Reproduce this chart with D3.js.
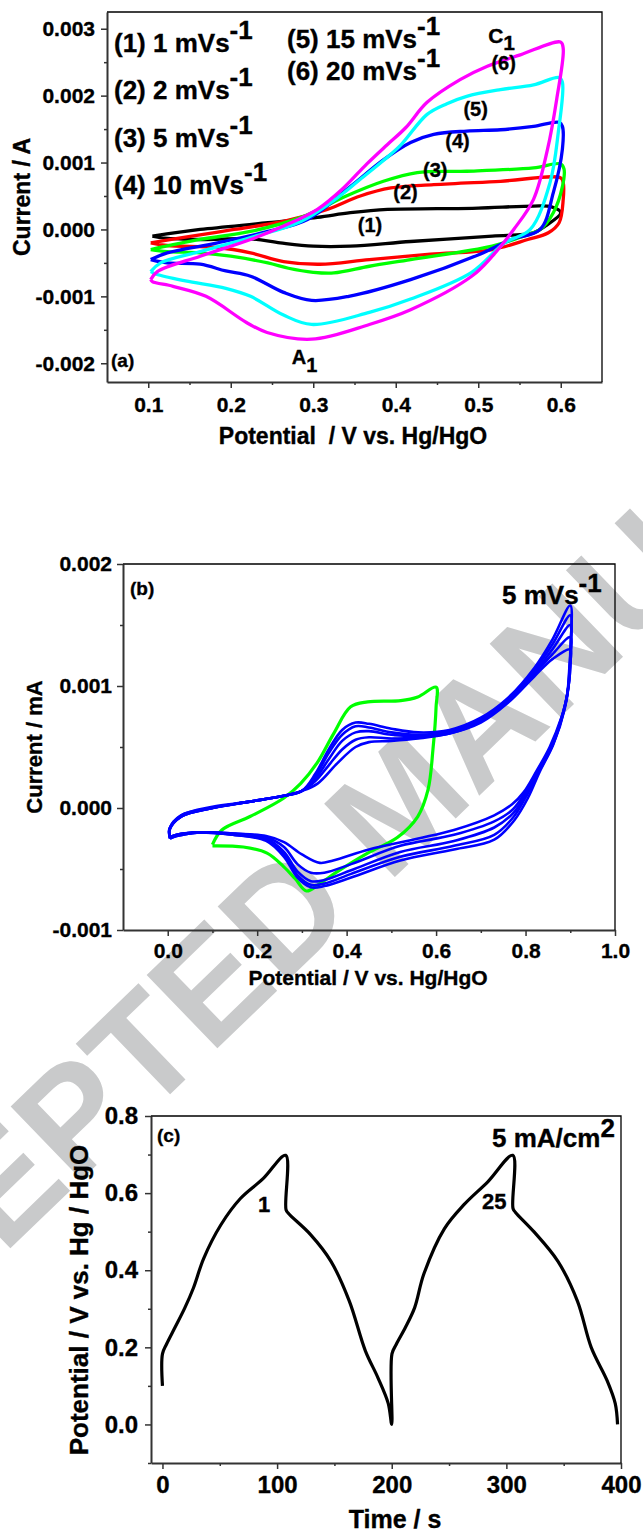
<!DOCTYPE html>
<html>
<head>
<meta charset="utf-8">
<script src="https://cdn.jsdelivr.net/npm/d3@7"></script>
<style>
  html, body { margin: 0; padding: 0; background: #fff; }
  svg text { font-family: "Liberation Sans", Arial, Helvetica, sans-serif; font-weight: bold; fill: #000; }
  svg text.ink { stroke: #000; stroke-width: 0.35px; }
</style>
</head>
<body>
<svg id="fig" width="643" height="1534"></svg>
<script>
// ---- (a) CV at several scan rates: [potential V, current A], anodic sweep then cathodic ----
const scanRatesA = ['(1) 1 mVs', '(2) 2 mVs', '(3) 5 mVs', '(4) 10 mVs', '(5) 15 mVs', '(6) 20 mVs'];
const curveLabelsA = ['(1)', '(2)', '(3)', '(4)', '(5)', '(6)'];
const coloursA = ['#000000', '#ff0000', '#00ff00', '#0000ff', '#00ffff', '#ff00ff'];

const cv1 = [[0.105,-0.0001],[0.163,0.0],[0.245,0.0001],[0.305,0.00018],[0.345,0.00025],[0.39,0.0003],[0.45,0.00031],[0.5,0.00032],[0.567,0.00035],[0.588,0.00034],[0.6,0.00025],
  [0.581,0.00005],[0.567,-0.00005],[0.517,-0.0001],[0.418,-0.00018],[0.345,-0.00025],[0.3,-0.00025],[0.26,-0.0002],[0.224,-0.00014],[0.163,-0.00015],[0.12,-0.00013],[0.105,-0.0001]];
const cv2 = [[0.103,-0.0002],[0.143,-0.00012],[0.204,0.0],[0.264,0.00012],[0.317,0.0003],[0.357,0.0005],[0.394,0.00062],[0.446,0.00067],[0.527,0.00072],[0.6,0.00077],
  [0.603,0.0007],[0.603,0.00045],[0.598,0.0001],[0.585,-0.00005],[0.56,-0.00015],[0.517,-0.0003],[0.442,-0.00037],[0.368,-0.00045],[0.308,-0.00052],[0.264,-0.00048],[0.224,-0.00035],[0.184,-0.00027],[0.123,-0.00024],[0.103,-0.0002]];
const cv3 = [[0.103,-0.0003],[0.163,-0.00015],[0.224,-0.00003],[0.285,0.00018],[0.34,0.0005],[0.385,0.00072],[0.426,0.00085],[0.486,0.00087],[0.567,0.00092],[0.6,0.00098],
  [0.604,0.0009],[0.602,0.00064],[0.591,0.00025],[0.575,0.0],[0.55,-0.00012],[0.517,-0.00025],[0.418,-0.00045],[0.368,-0.00055],[0.325,-0.00065],[0.3,-0.00064],[0.27,-0.00058],[0.245,-0.0005],[0.2,-0.0004],[0.163,-0.00035],[0.123,-0.00033],[0.103,-0.0003]];
const cv4 = [[0.103,-0.00045],[0.123,-0.00035],[0.184,-0.0002],[0.245,-0.00003],[0.293,0.00015],[0.345,0.00064],[0.385,0.00104],[0.418,0.0013],[0.446,0.00142],[0.486,0.00147],[0.527,0.00149],[0.567,0.00154],[0.598,0.0016],
  [0.602,0.00154],[0.602,0.0012],[0.591,0.00055],[0.575,0.0],[0.54,-0.00015],[0.502,-0.00037],[0.418,-0.00075],[0.343,-0.001],[0.298,-0.00106],[0.264,-0.00094],[0.224,-0.0007],[0.194,-0.00062],[0.163,-0.00052],[0.123,-0.0005],[0.103,-0.00045]];
const cv5 = [[0.103,-0.00063],[0.115,-0.0005],[0.163,-0.00033],[0.224,-0.00012],[0.285,0.00012],[0.33,0.00048],[0.357,0.00075],[0.385,0.00103],[0.406,0.00126],[0.438,0.00172],[0.462,0.00188],[0.486,0.00199],[0.527,0.00209],[0.567,0.00216],[0.598,0.00227],
  [0.602,0.0022],[0.597,0.00145],[0.587,0.0007],[0.563,0.0],[0.532,-0.0002],[0.492,-0.00064],[0.418,-0.00104],[0.368,-0.00124],[0.298,-0.00142],[0.264,-0.00128],[0.224,-0.001],[0.194,-0.00088],[0.145,-0.00077],[0.11,-0.00067],[0.103,-0.00063]];
const cv6 = [[0.103,-0.00075],[0.111,-0.00063],[0.163,-0.0004],[0.224,-0.00015],[0.264,0.00005],[0.305,0.0003],[0.335,0.0006],[0.365,0.00098],[0.39,0.00127],[0.412,0.00152],[0.438,0.0019],[0.478,0.00224],[0.511,0.00244],[0.551,0.00261],[0.6,0.0028],
  [0.603,0.0027],[0.595,0.00194],[0.584,0.0012],[0.567,0.00045],[0.543,0.0],[0.517,-0.0004],[0.492,-0.0007],[0.418,-0.0012],[0.368,-0.00142],[0.298,-0.00164],[0.244,-0.00154],[0.219,-0.00139],[0.17,-0.001],[0.13,-0.00085],[0.105,-0.00078],[0.103,-0.00075]];
const cvA = [cv1, cv2, cv3, cv4, cv5, cv6];

// ---- (b) repeated cycles at 5 mV/s: green to 0.6 V, blue to 0.9 V ----
const cycleGreen = [[0.1,-0.0003],[0.121,-0.00018],[0.184,-0.00007],[0.259,0.00008],[0.297,0.0002],[0.334,0.00037],[0.371,0.00061],[0.409,0.00083],[0.447,0.00087],[0.521,0.00088],[0.559,0.00091],[0.6,0.00099],
  [0.6,0.00083],[0.593,0.00048],[0.582,0.00015],[0.559,-0.00007],[0.514,-0.00024],[0.447,-0.00037],[0.38,-0.00052],[0.34,-0.00062],[0.31,-0.00068],[0.285,-0.00058],[0.259,-0.00048],[0.222,-0.00037],[0.169,-0.00032],[0.1,-0.00031]];
const cycleBlue1 = [[0.005,-0.00025],[0.004,-0.00018],[0.03,-0.00007],[0.1,0.0],[0.18,0.00005],[0.26,0.0001],[0.3,0.00014],[0.33,0.00028],[0.36,0.00048],[0.39,0.00064],[0.42,0.0007],[0.45,0.00069],[0.5,0.00065],[0.56,0.00062],[0.63,0.00064],[0.7,0.00074],[0.76,0.0009],[0.82,0.00115],[0.86,0.00138],[0.9,0.00166],
  [0.902,0.0014],[0.899,0.0011],[0.888,0.00082],[0.862,0.00052],[0.832,0.0003],[0.805,0.00008],[0.775,-0.0001],[0.73,-0.00026],[0.64,-0.00034],[0.52,-0.00043],[0.41,-0.00057],[0.35,-0.00064],[0.32,-0.00065],[0.29,-0.00057],[0.26,-0.0004],[0.22,-0.00027],[0.15,-0.00022],[0.07,-0.0002],[0.02,-0.00023],[0.005,-0.00025]];
const cycleBlue2 = [[0.005,-0.00025],[0.004,-0.00018],[0.03,-0.00007],[0.1,0.0],[0.18,0.00005],[0.26,0.0001],[0.3,0.00014],[0.33,0.00026],[0.36,0.00045],[0.39,0.0006],[0.42,0.00067],[0.45,0.00066],[0.5,0.00062],[0.56,0.0006],[0.63,0.00063],[0.7,0.00073],[0.76,0.00089],[0.82,0.00113],[0.86,0.00134],[0.9,0.00158],
  [0.901,0.00135],[0.898,0.00105],[0.886,0.0008],[0.86,0.00051],[0.83,0.0003],[0.802,0.0001],[0.774,-0.00007],[0.73,-0.00022],[0.64,-0.00031],[0.52,-0.0004],[0.41,-0.00054],[0.35,-0.00062],[0.32,-0.00063],[0.29,-0.00055],[0.26,-0.00038],[0.22,-0.00026],[0.15,-0.00022],[0.07,-0.0002],[0.02,-0.00023],[0.005,-0.00025]];
const cycleBlue3 = [[0.005,-0.00024],[0.004,-0.00017],[0.03,-0.00007],[0.1,0.0],[0.18,0.00005],[0.26,0.0001],[0.3,0.00014],[0.33,0.00024],[0.36,0.0004],[0.39,0.00055],[0.42,0.00062],[0.45,0.00063],[0.5,0.0006],[0.56,0.00059],[0.63,0.00062],[0.7,0.00072],[0.76,0.00088],[0.82,0.00111],[0.86,0.0013],[0.9,0.0015],
  [0.9,0.00128],[0.896,0.001],[0.884,0.00078],[0.858,0.0005],[0.828,0.0003],[0.8,0.00011],[0.773,-0.00004],[0.73,-0.00016],[0.64,-0.00027],[0.52,-0.00036],[0.41,-0.00051],[0.35,-0.00059],[0.32,-0.0006],[0.29,-0.00052],[0.26,-0.00036],[0.22,-0.00025],[0.15,-0.00022],[0.07,-0.0002],[0.02,-0.00022],[0.005,-0.00024]];
const cycleBlue4 = [[0.005,-0.00024],[0.004,-0.00017],[0.03,-0.00006],[0.1,0.0],[0.18,0.00005],[0.26,0.0001],[0.3,0.00014],[0.33,0.00022],[0.36,0.00035],[0.39,0.00048],[0.42,0.00056],[0.45,0.00058],[0.5,0.00057],[0.56,0.00058],[0.63,0.00061],[0.7,0.00071],[0.76,0.00087],[0.82,0.0011],[0.86,0.00126],[0.9,0.0014],
  [0.899,0.0012],[0.894,0.00095],[0.882,0.00076],[0.856,0.0005],[0.826,0.0003],[0.798,0.00012],[0.772,-0.00001],[0.73,-0.00011],[0.64,-0.00022],[0.52,-0.00031],[0.41,-0.00046],[0.35,-0.00053],[0.32,-0.00053],[0.29,-0.00046],[0.26,-0.00032],[0.22,-0.00024],[0.15,-0.00021],[0.07,-0.0002],[0.02,-0.00022],[0.005,-0.00024]];
const cycleBlue5 = [[0.005,-0.00024],[0.004,-0.00017],[0.03,-0.00006],[0.1,0.00001],[0.18,0.00005],[0.26,0.0001],[0.3,0.00014],[0.335,0.0002],[0.38,0.00037],[0.42,0.0005],[0.45,0.00054],[0.5,0.00055],[0.56,0.00057],[0.63,0.00061],[0.7,0.0007],[0.76,0.00086],[0.82,0.00108],[0.86,0.00122],[0.9,0.0013],
  [0.898,0.00115],[0.892,0.0009],[0.88,0.00074],[0.854,0.0005],[0.824,0.0003],[0.796,0.00013],[0.77,0.00003],[0.73,-0.00006],[0.64,-0.00018],[0.56,-0.00025],[0.45,-0.00034],[0.37,-0.00043],[0.34,-0.00045],[0.3,-0.00038],[0.26,-0.00028],[0.22,-0.00023],[0.15,-0.00021],[0.07,-0.0002],[0.02,-0.00022],[0.005,-0.00024]];
const cyclesBlue = [cycleBlue1, cycleBlue2, cycleBlue3, cycleBlue4, cycleBlue5];

// ---- (c) charge/discharge at 5 mA/cm2: [time s, potential V] ----
const gcd = [[0,0.1],[0,0.183],[3.5,0.208],[11,0.252],[19.6,0.303],[27,0.354],[36,0.431],[51,0.518],[68,0.586],[88,0.638],[107.5,0.698],
  [107.8,0.557],[110,0.547],[129,0.493],[147,0.423],[163,0.32],[177,0.191],[188,0.121],[197,0.054],[200,0.0],
  [200.2,0.183],[204,0.208],[212,0.252],[220,0.303],[228,0.39],[246,0.508],[263,0.57],[284,0.63],[305.6,0.698],
  [305.8,0.56],[308,0.55],[324,0.5],[345,0.423],[362,0.32],[374,0.2],[388,0.113],[395,0.054],[397,0.0]];

const svg = d3.select('#fig');
svg.append('rect').attr('width', 643).attr('height', 1534).attr('fill', '#fff');

// watermark, behind everything
svg.append('text').text('ACCEPTED MANUSCRIPT')
  .attr('transform', 'translate(398,800) rotate(-44)')
  .attr('text-anchor', 'middle').attr('dy', '0.36em')
  .style('font-size', '148px').style('fill', '#c9cacb');

const line = d3.line().curve(d3.curveCatmullRom.alpha(0.5));

function axes(g, x, y, o) {
  const [xl, xr] = x.range(), [yb, yt] = y.range();
  const clean = s => { s.attr('font-family', null).attr('font-size', null); };
  g.append('g').attr('transform', `translate(0,${yb})`)
    .call(d3.axisBottom(x).tickValues(o.xMinor).tickSize(3).tickFormat(''))
    .call(s => s.select('.domain').remove());
  g.append('g').attr('transform', `translate(${xl},0)`)
    .call(d3.axisLeft(y).tickValues(o.yMinor).tickSize(3).tickFormat(''))
    .call(s => s.select('.domain').remove());
  const xa = g.append('g').attr('transform', `translate(0,${yb})`)
    .call(d3.axisBottom(x).tickValues(o.xTicks).tickSize(6).tickSizeOuter(0).tickPadding(o.xPad).tickFormat(o.xFmt))
    .call(clean);
  const ya = g.append('g').attr('transform', `translate(${xl},0)`)
    .call(d3.axisLeft(y).tickValues(o.yTicks).tickSize(6).tickSizeOuter(0).tickPadding(o.yPad).tickFormat(o.yFmt))
    .call(clean);
  [xa, ya].forEach(a => {
    a.select('.domain').attr('stroke', '#333').attr('stroke-width', 2);
    a.selectAll('text').attr('class', 'ink').style('font-size', o.font + 'px');
  });
  g.selectAll('.tick line').attr('stroke', '#333').attr('stroke-width', 1.5);
  g.append('path').attr('d', `M${xl},${yt}H${xr}V${yb}`)
    .attr('fill', 'none').attr('stroke', '#000').attr('stroke-width', 1.3);
}

function rich(g, x, y, parts, size, anchor) {
  const t = g.append('text').attr('class', 'ink').attr('x', x).attr('y', y).style('font-size', size + 'px')
    .attr('text-anchor', anchor || 'start');
  parts.forEach(p => t.append('tspan').attr('dy', p[1] || 0).text(p[0]));
  return t;
}

// ===== panel (a) =====
{
  const g = svg.append('g');
  const x = d3.scaleLinear().domain([0.05, 0.65]).range([107, 602]);
  const y = d3.scaleLinear().domain([-0.00228, 0.00325]).range([382, 12]);
  axes(g, x, y, {
    xTicks: [0.1, 0.2, 0.3, 0.4, 0.5, 0.6], xMinor: [0.15, 0.25, 0.35, 0.45, 0.55],
    yTicks: [-0.002, -0.001, 0, 0.001, 0.002, 0.003], yMinor: [-0.0015, -0.0005, 0.0005, 0.0015, 0.0025],
    xFmt: d => d.toFixed(1), yFmt: d => d.toFixed(3), xPad: 9, yPad: 6, font: 21
  });
  cvA.forEach((c, k) => {
    g.append('path').attr('d', line(c.map(d => [x(d[0]), y(d[1])])))
      .attr('fill', 'none').attr('stroke', coloursA[k]).attr('stroke-width', 3.3)
      .attr('stroke-linejoin', 'round');
  });
  const labPos = [[0.354,-0.000045],[0.397,0.00045],[0.433,0.00079],[0.46,0.00122],[0.482,0.00169],[0.516,0.00239]];
  curveLabelsA.forEach((s, k) => rich(g, x(labPos[k][0]), y(labPos[k][1]), [[s]], 20));
  rich(g, x(0.512), y(0.00278), [['C'], ['1', 7]], 21);
  rich(g, x(0.274), y(-0.00201), [['A'], ['1', 8]], 20);
  rich(g, 111, 367, [['(a)']], 19);
  const legPos = [[114, 52], [114, 99], [114, 147], [114, 194], [287, 48], [287, 80]];
  scanRatesA.forEach((s, k) => rich(g, legPos[k][0], legPos[k][1], [[s], ['-1', -13]], 26));
  g.append('text').attr('class', 'ink').attr('transform', 'translate(30,197) rotate(-90)').attr('text-anchor', 'middle')
    .style('font-size', '23px').text('Current / A');
  g.append('text').attr('class', 'ink').attr('x', 353).attr('y', 444).attr('text-anchor', 'middle')
    .style('font-size', '23px').style('white-space', 'pre').text('Potential  / V vs. Hg/HgO');
}

// ===== panel (b) =====
{
  const g = svg.append('g');
  const x = d3.scaleLinear().domain([-0.1, 1.0]).range([123, 615]);
  const y = d3.scaleLinear().domain([-0.001, 0.002]).range([930, 564]);
  axes(g, x, y, {
    xTicks: [0, 0.2, 0.4, 0.6, 0.8, 1.0], xMinor: [0.1, 0.3, 0.5, 0.7, 0.9],
    yTicks: [-0.001, 0, 0.001, 0.002], yMinor: [-0.0005, 0.0005, 0.0015],
    xFmt: d => d.toFixed(1), yFmt: d => d.toFixed(3), xPad: 7, yPad: 5, font: 21
  });
  g.append('path').attr('d', line(cycleGreen.map(d => [x(d[0]), y(d[1])])))
    .attr('fill', 'none').attr('stroke', '#00ff00').attr('stroke-width', 3.2).attr('stroke-linejoin', 'round');
  cyclesBlue.forEach(c => {
    g.append('path').attr('d', line(c.map(d => [x(d[0]), y(d[1])])))
      .attr('fill', 'none').attr('stroke', '#0000ff').attr('stroke-width', 2.6).attr('stroke-linejoin', 'round');
  });
  rich(g, 130, 595, [['(b)']], 19);
  rich(g, 502, 604, [['5 mVs'], ['-1', -12]], 26);
  g.append('text').attr('class', 'ink').attr('transform', 'translate(42,747) rotate(-90)').attr('text-anchor', 'middle')
    .style('font-size', '22px').text('Current / mA');
  g.append('text').attr('class', 'ink').attr('x', 368).attr('y', 985).attr('text-anchor', 'middle')
    .style('font-size', '21px').text('Potential / V vs. Hg/HgO');
}

// ===== panel (c) =====
{
  const g = svg.append('g');
  const x = d3.scaleLinear().domain([-10, 400]).range([151, 621]);
  const y = d3.scaleLinear().domain([-0.1, 0.8]).range([1463, 1116]);
  axes(g, x, y, {
    xTicks: [0, 100, 200, 300, 400], xMinor: [50, 150, 250, 350],
    yTicks: [0, 0.2, 0.4, 0.6, 0.8], yMinor: [-0.1, 0.1, 0.3, 0.5, 0.7],
    xFmt: d3.format('d'), yFmt: d => d.toFixed(1), xPad: 7, yPad: 7, font: 24
  });
  g.append('path').attr('d', line(gcd.map(d => [x(d[0]), y(d[1])])))
    .attr('fill', 'none').attr('stroke', '#000').attr('stroke-width', 3.2).attr('stroke-linejoin', 'round');
  rich(g, 157, 1142, [['(c)']], 19);
  rich(g, 258, 1212, [['1']], 22);
  rich(g, 482, 1209, [['25']], 22);
  rich(g, 492, 1147, [['5 mA/cm'], ['2', -10]], 26);
  g.append('text').attr('class', 'ink').attr('transform', 'translate(88,1300) rotate(-90)').attr('text-anchor', 'middle')
    .style('font-size', '26px').text('Potential / V vs. Hg / HgO');
  g.append('text').attr('class', 'ink').attr('x', 395).attr('y', 1528).attr('text-anchor', 'middle')
    .style('font-size', '25px').text('Time / s');
}
</script>
</body>
</html>
